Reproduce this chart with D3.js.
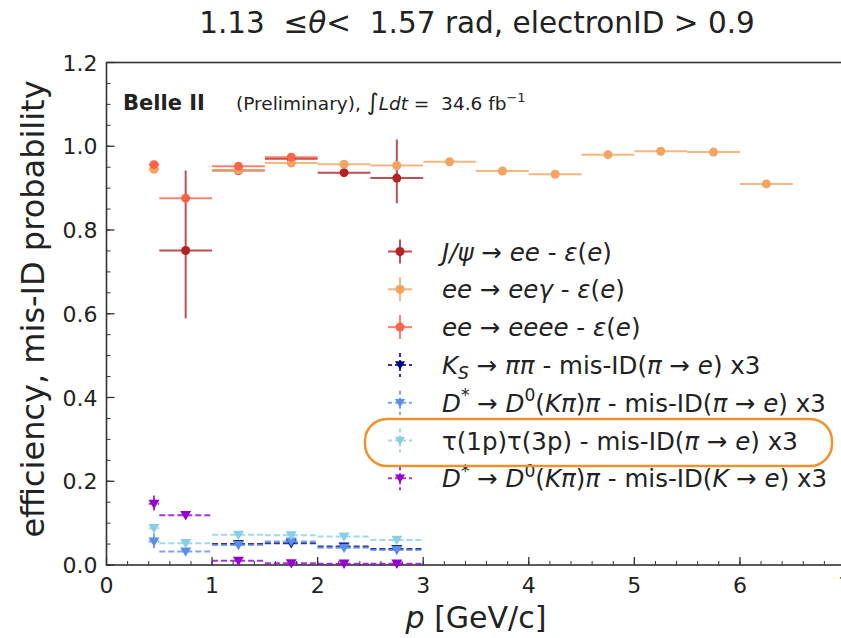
<!DOCTYPE html>
<html>
<head>
<meta charset="utf-8">
<script src="https://cdn.jsdelivr.net/npm/d3@7"></script>
<style>
  html, body { margin: 0; padding: 0; background: #fff; }
  svg { display: block; }
  text { font-family: "DejaVu Sans", sans-serif; fill: #222; white-space: pre; }
</style>
</head>
<body>
<svg id="chart" width="841" height="638"></svg>
<script>
// ---- data: momentum bins (GeV/c) and measured values ----
const jpsiP      = [0.75, 1.25, 1.75, 2.25, 2.75];
const jpsiBinLo  = [0.5, 1.0, 1.5, 2.0, 2.5];
const jpsiBinHi  = [1.0, 1.5, 2.0, 2.5, 3.0];
const jpsiEff    = [0.751, 0.942, 0.970, 0.937, 0.924];
const jpsiErrUp  = [0.191, 0.006, 0.006, 0.010, 0.092];
const jpsiErrDn  = [0.162, 0.006, 0.006, 0.010, 0.060];

const eegP       = [0.45, 1.25, 1.75, 2.25, 2.75, 3.25, 3.75, 4.25, 4.75, 5.25, 5.75, 6.25];
const eegBinLo   = [0.4, 1.0, 1.5, 2.0, 2.5, 3.0, 3.5, 4.0, 4.5, 5.0, 5.5, 6.0];
const eegBinHi   = [0.5, 1.5, 2.0, 2.5, 3.0, 3.5, 4.0, 4.5, 5.0, 5.5, 6.0, 6.5];
const eegEff     = [0.945, 0.943, 0.960, 0.957, 0.954, 0.963, 0.941, 0.933, 0.980, 0.988, 0.986, 0.910];
const eegErr     = [0.004, 0.003, 0.003, 0.003, 0.003, 0.003, 0.003, 0.003, 0.003, 0.003, 0.003, 0.004];

const eeeeP      = [0.45, 0.75, 1.25, 1.75];
const eeeeBinLo  = [0.4, 0.5, 1.0, 1.5];
const eeeeBinHi  = [0.5, 1.0, 1.5, 2.0];
const eeeeEff    = [0.956, 0.876, 0.952, 0.974];
const eeeeErr    = [0.005, 0.012, 0.004, 0.004];

const ksP        = [1.25, 1.75, 2.25, 2.75];
const ksBinLo    = [1.0, 1.5, 2.0, 2.5];
const ksBinHi    = [1.5, 2.0, 2.5, 3.0];
const ksMisID    = [0.050, 0.052, 0.044, 0.038];
const ksErr      = [0.004, 0.009, 0.004, 0.004];

const dstPiP     = [0.45, 0.75, 1.25, 1.75, 2.25, 2.75];
const dstPiBinLo = [0.4, 0.5, 1.0, 1.5, 2.0, 2.5];
const dstPiBinHi = [0.5, 1.0, 1.5, 2.0, 2.5, 3.0];
const dstPiMisID = [0.056, 0.032, 0.048, 0.056, 0.041, 0.036];
const dstPiErr   = [0.020, 0.006, 0.008, 0.007, 0.006, 0.005];

const tauP       = [0.45, 0.75, 1.25, 1.75, 2.25, 2.75];
const tauBinLo   = [0.4, 0.5, 1.0, 1.5, 2.0, 2.5];
const tauBinHi   = [0.5, 1.0, 1.5, 2.0, 2.5, 3.0];
const tauMisID   = [0.088, 0.052, 0.072, 0.071, 0.068, 0.060];
const tauErr     = [0.007, 0.006, 0.006, 0.006, 0.006, 0.006];

const dstKP      = [0.45, 0.75, 1.25, 1.75, 2.25, 2.75];
const dstKBinLo  = [0.4, 0.5, 1.0, 1.5, 2.0, 2.5];
const dstKBinHi  = [0.5, 1.0, 1.5, 2.0, 2.5, 3.0];
const dstKMisID  = [0.146, 0.119, 0.010, 0.004, 0.003, 0.003];
const dstKErr    = [0.020, 0.004, 0.004, 0.002, 0.002, 0.002];

const xTicks = [0, 1, 2, 3, 4, 5, 6, 7];
const yTicks = [0.0, 0.2, 0.4, 0.6, 0.8, 1.0, 1.2];

// ---- series descriptions ----
const series = [
  { p: jpsiP, lo: jpsiBinLo, hi: jpsiBinHi, v: jpsiEff, eu: jpsiErrUp, ed: jpsiErrDn,
    color: "#b22222", marker: "circle", dashed: false,
    label: [["J/ψ","i"],[" → ",""],["ee","i"],[" - ",""],["ε","i"],["(",""],["e","i"],[")",""]] },
  { p: eegP, lo: eegBinLo, hi: eegBinHi, v: eegEff, eu: eegErr, ed: eegErr,
    color: "#f4a460", marker: "circle", dashed: false,
    label: [["ee","i"],[" → ",""],["eeγ","i"],[" - ",""],["ε","i"],["(",""],["e","i"],[")",""]] },
  { p: eeeeP, lo: eeeeBinLo, hi: eeeeBinHi, v: eeeeEff, eu: eeeeErr, ed: eeeeErr,
    color: "#ff6347", marker: "circle", dashed: false,
    label: [["ee","i"],[" → ",""],["eeee","i"],[" - ",""],["ε","i"],["(",""],["e","i"],[")",""]] },
  { p: ksP, lo: ksBinLo, hi: ksBinHi, v: ksMisID, eu: ksErr, ed: ksErr,
    color: "#00008b", marker: "tri", dashed: true,
    label: [["K","i"],["S","sub"],[" → ",""],["ππ","i"],[" - mis-ID(",""],["π","i"],[" → ",""],["e","i"],[") x3",""]] },
  { p: dstPiP, lo: dstPiBinLo, hi: dstPiBinHi, v: dstPiMisID, eu: dstPiErr, ed: dstPiErr,
    color: "#5b8fe6", marker: "tri", dashed: true,
    label: [["D","i"],["*","sup"],[" → ",""],["D","i"],["0","sup"],["(",""],["Kπ","i"],[")",""],["π","i"],[" - mis-ID(",""],["π","i"],[" → ",""],["e","i"],[") x3",""]] },
  { p: tauP, lo: tauBinLo, hi: tauBinHi, v: tauMisID, eu: tauErr, ed: tauErr,
    color: "#87ceeb", marker: "tri", dashed: true,
    label: [["τ(1p)τ(3p) - mis-ID(",""],["π","i"],[" → ",""],["e","i"],[") x3",""]] },
  { p: dstKP, lo: dstKBinLo, hi: dstKBinHi, v: dstKMisID, eu: dstKErr, ed: dstKErr,
    color: "#9400d3", marker: "tri", dashed: true,
    label: [["D","i"],["*","sup"],[" → ",""],["D","i"],["0","sup"],["(",""],["Kπ","i"],[")",""],["π","i"],[" - mis-ID(",""],["K","i"],[" → ",""],["e","i"],[") x3",""]] }
];

// ---- scales ----
const x = d3.scaleLinear().domain([0, 7]).range([106.5, 845.5]);
const y = d3.scaleLinear().domain([0, 1.2]).range([565, 62.5]);

const svg = d3.select("#chart");

// rich text helper: italic / superscript / subscript segments
function rich(textSel, segs, size) {
  let shift = 0;
  segs.forEach(([t, s]) => {
    const ts = textSel.append("tspan").text(t);
    let target = 0;
    if (s === "i") ts.attr("font-style", "italic");
    if (s === "sup") { target = -0.42 * size; ts.attr("font-size", size * 0.7); }
    if (s === "sub") { target = 0.22 * size; ts.attr("font-size", size * 0.7).attr("font-style", "italic"); }
    if (target !== shift) { ts.attr("dy", target - shift); shift = target; }
  });
}

// ---- frame and ticks ----
const axisG = svg.append("g");
const frameColor = "#333";
// minor ticks
d3.range(0, 7.0001, 0.2).forEach(v => {
  axisG.append("line").attr("x1", x(v)).attr("x2", x(v)).attr("y1", y(0)).attr("y2", y(0) - 4)
    .attr("stroke", frameColor).attr("stroke-width", 1);
});
d3.range(0, 1.2001, 0.05).forEach(v => {
  axisG.append("line").attr("x1", x(0)).attr("x2", x(0) + 4).attr("y1", y(v)).attr("y2", y(v))
    .attr("stroke", frameColor).attr("stroke-width", 1);
});
xTicks.forEach(v => {
  axisG.append("line").attr("x1", x(v)).attr("x2", x(v)).attr("y1", y(0)).attr("y2", y(0) - 8)
    .attr("stroke", frameColor).attr("stroke-width", 1.3);
  axisG.append("text").attr("x", x(v)).attr("y", y(0) + 28).attr("text-anchor", "middle")
    .attr("font-size", 22).text(d3.format("d")(v));
});
yTicks.forEach(v => {
  axisG.append("line").attr("x1", x(0)).attr("x2", x(0) + 8).attr("y1", y(v)).attr("y2", y(v))
    .attr("stroke", frameColor).attr("stroke-width", 1.3);
  axisG.append("text").attr("x", x(0) - 9).attr("y", y(v) + 8).attr("text-anchor", "end")
    .attr("font-size", 22).text(d3.format(".1f")(v));
});
axisG.append("rect").attr("x", x(0)).attr("y", y(1.2)).attr("width", x(7) - x(0)).attr("height", y(0) - y(1.2))
  .attr("fill", "none").attr("stroke", frameColor).attr("stroke-width", 1.6);

// ---- data marks ----
const triPath = (cx, cy, s) => `M${cx - s},${cy - s * 0.75}L${cx + s},${cy - s * 0.75}L${cx},${cy + s * 0.95}Z`;

const dataG = svg.append("g");
series.forEach(s => {
  const g = dataG.append("g");
  s.p.forEach((p, i) => {
    const dash = s.dashed ? "6,3" : null;
    g.append("line").attr("x1", x(s.lo[i])).attr("x2", x(s.hi[i])).attr("y1", y(s.v[i])).attr("y2", y(s.v[i]))
      .attr("stroke", s.color).attr("stroke-width", 2).attr("stroke-opacity", 0.8).attr("stroke-dasharray", dash);
    g.append("line").attr("x1", x(p)).attr("x2", x(p)).attr("y1", y(s.v[i] + s.eu[i])).attr("y2", y(s.v[i] - s.ed[i]))
      .attr("stroke", s.color).attr("stroke-width", 2).attr("stroke-opacity", 0.8).attr("stroke-dasharray", dash);
    if (s.marker === "circle") {
      g.append("circle").attr("cx", x(p)).attr("cy", y(s.v[i])).attr("r", 4.5).attr("fill", s.color);
    } else {
      g.append("path").attr("d", triPath(x(p), y(s.v[i]), 5.5)).attr("fill", s.color);
    }
  });
});

// ---- legend ----
const legG = svg.append("g");
const legX = 400, legY0 = 251.5, legDY = 37.8, legFont = 24.5;
series.forEach((s, k) => {
  const cy = legY0 + k * legDY;
  const dash = s.dashed ? "4,3" : null;
  legG.append("line").attr("x1", legX - 12).attr("x2", legX + 12).attr("y1", cy).attr("y2", cy)
    .attr("stroke", s.color).attr("stroke-width", 2).attr("stroke-opacity", 0.8).attr("stroke-dasharray", dash);
  legG.append("line").attr("x1", legX).attr("x2", legX).attr("y1", cy - 12).attr("y2", cy + 12)
    .attr("stroke", s.color).attr("stroke-width", 2).attr("stroke-opacity", 0.8).attr("stroke-dasharray", dash);
  if (s.marker === "circle") legG.append("circle").attr("cx", legX).attr("cy", cy).attr("r", 4.5).attr("fill", s.color);
  else legG.append("path").attr("d", triPath(legX, cy, 5)).attr("fill", s.color);
  const t = legG.append("text").attr("x", 442).attr("y", cy + 9).attr("font-size", legFont);
  rich(t, s.label, legFont);
});

// highlight box around the tau entry
legG.append("rect").attr("x", 365).attr("y", 419).attr("width", 467).attr("height", 47)
  .attr("rx", 22).attr("ry", 22).attr("fill", "none").attr("stroke", "#f0922b").attr("stroke-width", 2.5);

// ---- annotations ----
svg.append("text").attr("x", 123).attr("y", 110).attr("font-size", 21)
  .attr("font-weight", "bold").text("Belle II");
const lumi = svg.append("text").attr("x", 236).attr("y", 110).attr("font-size", 18.5);
lumi.append("tspan").text("(Preliminary), ");
lumi.append("tspan").attr("font-size", 23).attr("font-style", "italic").text("∫");
lumi.append("tspan").attr("font-style", "italic").text("Ldt");
lumi.append("tspan").text(" =  34.6 fb");
lumi.append("tspan").attr("font-size", 13).attr("dy", -8).text("−1");

// title
const title = svg.append("text").attr("x", 477).attr("y", 33).attr("text-anchor", "middle")
  .attr("font-size", 29.5);
title.append("tspan").text("1.13  ≤");
title.append("tspan").attr("font-style", "italic").text("θ");
title.append("tspan").text("<  1.57 rad, electronID > 0.9");

// axis labels
const xl = svg.append("text").attr("x", 476).attr("y", 628).attr("text-anchor", "middle").attr("font-size", 30);
xl.append("tspan").attr("font-style", "italic").text("p");
xl.append("tspan").text(" [GeV/c]");

svg.append("text").attr("transform", "translate(44,309) rotate(-90)").attr("text-anchor", "middle")
  .attr("font-size", 32).text("efficiency, mis-ID probability");
</script>
</body>
</html>
